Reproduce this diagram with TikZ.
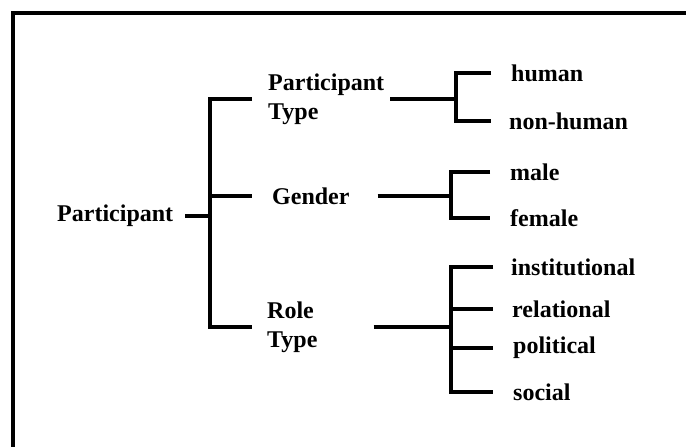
\documentclass[tikz,border=0pt]{standalone}
\usepackage{fontspec}
\setmainfont{Liberation Serif}
\usetikzlibrary{positioning}

\begin{document}
\begin{tikzpicture}[x=1pt,y=-1pt,font=\fontsize{24}{29}\selectfont\bfseries]
			\tikzset{lbl/.style={anchor=west,inner sep=0pt},
				br/.style={black,line width=4pt},
				frame/.style={black,line width=4pt}}
			\useasboundingbox (0,0) rectangle (686,447);
			\draw[frame] (13,447) |- (686,13);
			\begin{scope}
				% bus and tip positions
				\coordinate (busA) at (210,0);
				\coordinate (tipA) at (252,0);
				\coordinate (busB) at (456,0);
				\coordinate (tipB) at (491,0);
				\coordinate (busC) at (451,0);
				\coordinate (tipC) at (490,0);
				\coordinate (busD) at (451,0);
				\coordinate (tipD) at (493,0);
				\node[lbl] (root) at (57,216) {Participant};
				\node[lbl,align=left] (ptype) at (268,99) {Participant\\Type};
				\node[lbl] (gender) at (272,196) {Gender};
				\node[lbl,align=left] (role) at (267,327) {Role\\Type};
				\node[lbl] (human) at (511,73) {human};
				\node[lbl] (nonhuman) at (509,121) {non-human};
				\node[lbl] (male) at (510,172) {male};
				\node[lbl] (female) at (510,218) {female};
				\node[lbl] (inst) at (511,267) {institutional};
				\node[lbl] (rel) at (512,309) {relational};
				\node[lbl] (pol) at (513,348) {political};
				\node[lbl] (soc) at (513,392) {social};
			\end{scope}
			\draw[br] ([xshift=12pt]root.east) -- (root.east -| busA);
			\draw[br] (ptype.west -| tipA) -| (root.east -| busA) |- (role.west -| tipA);
			\draw[br] (gender.west -| busA) -- (gender.west -| tipA);
			\draw[br] ([xshift=6pt]ptype.east) -- (ptype.east -| busB);
			\draw[br] (human.west -| tipB) -| (ptype.east -| busB) |- (nonhuman.west -| tipB);
			\draw[br] ([xshift=28pt]gender.east) -- (gender.east -| busC);
			\draw[br] (male.west -| tipC) -| (gender.east -| busC) |- (female.west -| tipC);
			\draw[br] ([xshift=56pt]role.east) -- (role.east -| busD);
			\draw[br] (inst.west -| tipD) -| (role.east -| busD) |- (soc.west -| tipD);
			\draw[br] (rel.west -| busD) -- (rel.west -| tipD);
			\draw[br] (pol.west -| busD) -- (pol.west -| tipD);
		\end{tikzpicture}
\end{document}
